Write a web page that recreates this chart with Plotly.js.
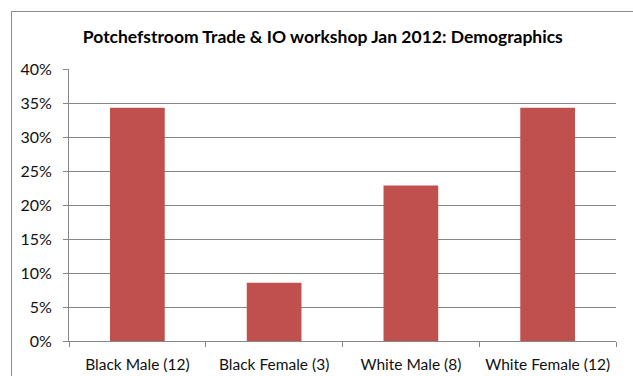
<!DOCTYPE html>
<html>
<head>
<meta charset="utf-8">
<script src="https://cdn.plot.ly/plotly-3.0.1.min.js"></script>
<style>
html,body{margin:0;padding:0;background:#fff;overflow:hidden;}
#frame{position:absolute;left:11px;top:11px;width:700px;height:500px;border:1px solid #8c8c8c;}
#chart{position:absolute;left:0;top:0;width:633px;height:376px;}
</style>
</head>
<body>
<div id="frame"></div>
<div id="chart"></div>
<script>
const categories = ["Black Male (12)", "Black Female (3)", "White Male (8)", "White Female (12)"];
const shares = [0.3429, 0.0857, 0.2286, 0.3429];
const tickValues = [0, 0.05, 0.10, 0.15, 0.20, 0.25, 0.30, 0.35, 0.40];
const tickLabels = ["0%", "5%", "10%", "15%", "20%", "25%", "30%", "35%", "40%"];

const font = "Lato, 'Open Sans', sans-serif";
Plotly.newPlot("chart", [{
  type: "bar",
  x: categories,
  y: shares,
  marker: {color: "#C0504D"},
  hoverinfo: "skip"
}], {
  width: 633, height: 376,
  margin: {l: 69, r: 17, t: 69, b: 35},
  paper_bgcolor: "rgba(0,0,0,0)",
  plot_bgcolor: "rgba(0,0,0,0)",
  bargap: 0.6,
  showlegend: false,
  title: {text: "<b>Potchefstroom Trade &amp; IO workshop Jan 2012: Demographics</b>",
          font: {family: font, size: 17.5, color: "#000"}, x: 0.51, xanchor: "center", y: 0.902, yanchor: "middle"},
  xaxis: {
    type: "category",
    showline: true, linecolor: "#868686", linewidth: 1,
    ticks: "outside", tickson: "boundaries", ticklen: 5, tickcolor: "#868686",
    ticklabelstandoff: 9,
    tickfont: {family: font, size: 15.5, color: "#111"},
    showgrid: false
  },
  yaxis: {
    range: [0, 0.4],
    tickvals: tickValues, ticktext: tickLabels,
    showline: true, linecolor: "#868686", linewidth: 1,
    ticks: "outside", ticklen: 5, tickcolor: "#868686",
    ticklabelstandoff: 8,
    showgrid: true, gridcolor: "#868686", gridwidth: 1,
    zeroline: false,
    tickfont: {family: font, size: 16, color: "#111"}
  }
}, {staticPlot: true});
</script>
</body>
</html>
